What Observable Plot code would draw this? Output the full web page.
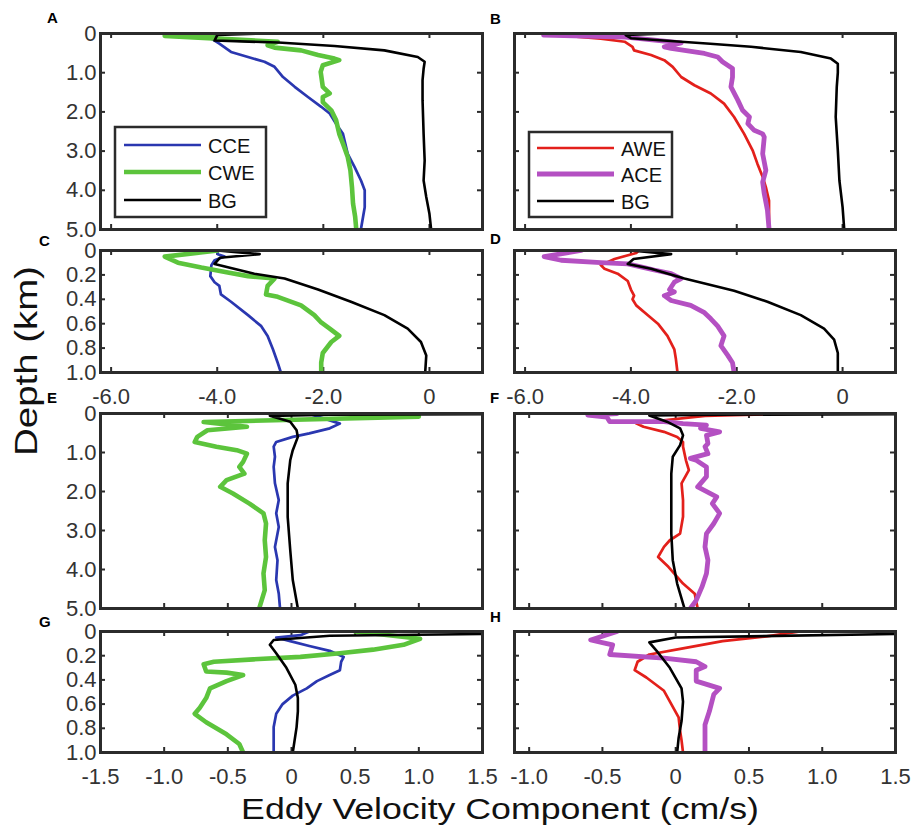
<!DOCTYPE html>
<html><head><meta charset="utf-8">
<script src="https://cdn.jsdelivr.net/npm/d3@7"></script>
<script src="https://cdn.jsdelivr.net/npm/@observablehq/plot@0.6"></script>
<style>
body{margin:0;background:#fff;}
#root{position:relative;width:912px;height:827px;overflow:hidden;font-family:"Liberation Sans",Arial,Helvetica,sans-serif;background:#fff;}
#root svg{position:absolute;}
</style></head><body><div id="root"></div><script>
// ---------- data: [velocity (cm/s), depth (km)] ----------
const A_CCE = [[-4.0,0],[-4.05,0.05],[-4.11,0.13],[-3.96,0.26],[-3.74,0.47],[-3.42,0.60],[-3.11,0.72],[-2.92,0.85],[-2.76,1.11],[-2.54,1.36],[-2.29,1.62],[-2.04,1.87],[-1.88,2.04],[-1.76,2.30],[-1.63,2.56],[-1.60,2.73],[-1.54,3.07],[-1.41,3.41],[-1.29,3.75],[-1.22,4.0],[-1.22,4.43],[-1.29,4.98]];
const A_CWE = [[-3.99,0],[-4.99,0.06],[-2.86,0.21],[-3.05,0.30],[-2.92,0.36],[-2.42,0.43],[-2.10,0.55],[-1.79,0.64],[-1.70,0.68],[-2.01,0.81],[-2.05,0.98],[-2.01,1.36],[-1.88,1.53],[-2.01,1.62],[-2.01,1.75],[-1.85,1.96],[-1.76,2.21],[-1.70,2.56],[-1.63,2.81],[-1.54,3.15],[-1.49,3.49],[-1.46,3.92],[-1.44,4.34],[-1.40,4.68],[-1.38,4.98]];
const A_BG  = [[-3.2,0],[-4.0,0.04],[-4.05,0.18],[-2.85,0.23],[-1.79,0.32],[-0.85,0.43],[-0.22,0.60],[-0.09,0.72],[-0.11,0.9],[-0.13,1.19],[-0.13,1.70],[-0.11,2.56],[-0.09,3.24],[-0.11,3.75],[-0.06,4.17],[0,4.6],[0.03,4.98]];

const B_AWE = [[-4.3,0],[-5.5,0.03],[-4.57,0.13],[-4.12,0.21],[-3.97,0.34],[-3.94,0.43],[-3.62,0.55],[-3.37,0.68],[-3.21,0.85],[-3.05,1.11],[-2.80,1.32],[-2.49,1.53],[-2.24,1.79],[-2.05,2.13],[-1.86,2.56],[-1.70,2.98],[-1.61,3.32],[-1.51,3.66],[-1.45,3.92],[-1.39,4.26],[-1.39,4.60],[-1.39,4.98]];
const B_ACE = [[-4.5,0],[-5.65,0.04],[-4.1,0.09],[-3.05,0.24],[-3.37,0.34],[-3.24,0.38],[-2.61,0.51],[-2.36,0.60],[-2.27,0.72],[-2.08,0.89],[-2.08,1.11],[-2.11,1.36],[-1.98,1.70],[-1.89,1.96],[-1.76,2.13],[-1.79,2.30],[-1.67,2.47],[-1.51,2.56],[-1.48,2.64],[-1.51,3.07],[-1.45,3.49],[-1.51,3.79],[-1.48,4.09],[-1.42,4.51],[-1.39,4.98]];
const B_BG  = [[-3.3,0],[-4.1,0.04],[-4.0,0.12],[-2.5,0.26],[-1.73,0.34],[-0.79,0.47],[-0.22,0.64],[-0.09,0.77],[-0.09,1.0],[-0.11,1.36],[-0.13,2.13],[-0.09,2.98],[-0.06,3.75],[0,4.43],[0.03,4.98]];

const C_CCE = [[-4.0,0],[-3.99,0.03],[-3.86,0.05],[-4.05,0.08],[-4.11,0.12],[-4.13,0.21],[-4.05,0.26],[-3.96,0.29],[-3.93,0.36],[-3.74,0.42],[-3.42,0.53],[-3.17,0.62],[-3.05,0.70],[-2.95,0.81],[-2.86,0.92],[-2.80,1.0]];
const C_CWE = [[-3.99,0],[-4.99,0.05],[-4.74,0.10],[-4.30,0.14],[-3.80,0.18],[-3.42,0.21],[-2.92,0.23],[-3.05,0.29],[-3.08,0.36],[-2.86,0.38],[-2.42,0.45],[-2.17,0.53],[-2.04,0.59],[-1.88,0.64],[-1.70,0.70],[-1.85,0.75],[-2.01,0.84],[-2.04,0.92],[-2.04,1.0]];
const C_BG  = [[-4.0,0],[-3.2,0.03],[-3.95,0.06],[-4.05,0.11],[-3.30,0.19],[-2.73,0.23],[-2.10,0.32],[-1.48,0.42],[-0.85,0.53],[-0.41,0.64],[-0.16,0.75],[-0.06,0.86],[-0.08,1.0]];

const D_AWE = [[-3.85,0],[-3.90,0.02],[-4.31,0.07],[-4.57,0.12],[-4.50,0.15],[-4.25,0.19],[-4.06,0.25],[-4.0,0.32],[-3.94,0.37],[-3.97,0.40],[-3.90,0.45],[-3.68,0.53],[-3.49,0.60],[-3.31,0.70],[-3.18,0.81],[-3.15,0.89],[-3.12,1.0]];
const D_ACE = [[-4.94,0],[-5.64,0.05],[-5.32,0.08],[-4.57,0.10],[-4.06,0.11],[-3.75,0.14],[-3.56,0.16],[-3.24,0.19],[-3.05,0.23],[-3.18,0.26],[-3.27,0.32],[-3.18,0.34],[-3.37,0.37],[-3.24,0.41],[-2.87,0.45],[-2.61,0.51],[-2.49,0.56],[-2.36,0.62],[-2.24,0.70],[-2.30,0.78],[-2.17,0.86],[-2.08,0.92],[-2.05,1.0]];
const D_BG  = [[-4.0,0],[-3.24,0.03],[-3.95,0.07],[-4.06,0.11],[-3.62,0.15],[-2.99,0.23],[-2.05,0.33],[-1.42,0.42],[-0.79,0.53],[-0.35,0.64],[-0.16,0.73],[-0.09,0.84],[-0.09,1.0]];

const E_CCE = [[0.0,0],[0.15,0.02],[0.38,0.26],[0.30,0.38],[0.14,0.51],[0.01,0.60],[-0.12,0.73],[-0.14,0.85],[-0.13,1.11],[-0.14,1.37],[-0.13,1.79],[-0.10,2.22],[-0.12,2.56],[-0.10,2.91],[-0.13,3.42],[-0.11,3.76],[-0.12,4.27],[-0.10,4.62],[-0.09,5.0]];
const E_CWE = [[0.46,0],[1.0,0.08],[-0.69,0.22],[-0.35,0.34],[-0.66,0.43],[-0.74,0.60],[-0.76,0.73],[-0.59,0.85],[-0.43,0.94],[-0.35,1.03],[-0.38,1.24],[-0.41,1.37],[-0.37,1.54],[-0.51,1.71],[-0.56,1.88],[-0.46,2.05],[-0.33,2.31],[-0.22,2.56],[-0.20,2.82],[-0.21,3.25],[-0.20,3.68],[-0.22,4.10],[-0.21,4.53],[-0.25,4.96]];
const E_BG  = [[1.8,0],[1.5,0.02],[0.3,0.03],[-0.17,0.06],[-0.01,0.21],[0.04,0.43],[0.05,0.60],[0.01,0.94],[-0.01,1.2],[-0.03,1.79],[-0.03,2.65],[-0.01,3.5],[0.01,4.27],[0.05,5.0]];

const F_AWE = [[0.85,0],[0.2,0.06],[-0.27,0.25],[-0.22,0.34],[-0.08,0.47],[0.01,0.60],[0.05,0.73],[0.05,0.85],[0.07,1.2],[0.09,1.45],[0.04,1.79],[0.05,2.22],[0.05,2.65],[0.03,3.08],[-0.04,3.25],[-0.08,3.42],[-0.12,3.68],[-0.05,3.93],[0.05,4.36],[0.13,4.62],[0.15,5.0]];
const F_ACE = [[-0.40,0],[-0.60,0.04],[-0.47,0.09],[-0.45,0.21],[-0.08,0.21],[0.05,0.26],[0.21,0.30],[0.17,0.38],[0.30,0.47],[0.21,0.56],[0.22,0.77],[0.20,0.85],[0.22,1.03],[0.10,1.15],[0.14,1.20],[0.21,1.37],[0.21,1.62],[0.15,1.88],[0.28,2.14],[0.25,2.31],[0.30,2.56],[0.26,2.82],[0.21,3.08],[0.20,3.42],[0.22,3.76],[0.21,4.10],[0.18,4.44],[0.14,4.79],[0.10,5.0]];
const F_BG  = [[1.8,0],[1.5,0.02],[0.3,0.03],[-0.18,0.05],[-0.06,0.21],[0.03,0.38],[0.05,0.56],[0.03,0.81],[-0.02,1.11],[-0.03,1.54],[-0.03,2.22],[-0.03,3.08],[-0.02,3.76],[0.01,4.36],[0.06,5.0]];

const G_CCE = [[0.14,0],[0.07,0.03],[-0.12,0.05],[-0.01,0.08],[0.14,0.12],[0.30,0.16],[0.41,0.21],[0.39,0.25],[0.38,0.32],[0.30,0.36],[0.20,0.41],[0.12,0.47],[0.01,0.53],[-0.07,0.60],[-0.12,0.68],[-0.14,0.79],[-0.14,0.90],[-0.14,1.0]];
const G_CWE = [[0.50,0],[1.01,0.06],[0.88,0.11],[0.64,0.15],[0.38,0.18],[0.07,0.21],[-0.30,0.23],[-0.61,0.25],[-0.69,0.27],[-0.67,0.33],[-0.51,0.34],[-0.38,0.36],[-0.51,0.41],[-0.64,0.47],[-0.67,0.55],[-0.72,0.63],[-0.76,0.68],[-0.67,0.75],[-0.51,0.85],[-0.41,0.93],[-0.38,1.0]];
const G_BG  = [[1.8,0],[1.5,0.02],[0.3,0.035],[-0.14,0.07],[-0.17,0.11],[-0.12,0.18],[-0.04,0.30],[0.03,0.44],[0.05,0.55],[0.05,0.66],[0.04,0.79],[0.01,1.0]];

const H_AWE = [[0.85,0],[0.62,0.04],[0.32,0.08],[0.05,0.14],[-0.18,0.19],[-0.26,0.25],[-0.28,0.32],[-0.20,0.38],[-0.08,0.49],[-0.03,0.60],[0.02,0.71],[0.03,0.82],[0.04,0.90],[0.05,1.0]];
const H_ACE = [[-0.40,0],[-0.58,0.07],[-0.47,0.10],[-0.43,0.11],[-0.45,0.19],[-0.08,0.22],[0.14,0.25],[0.20,0.29],[0.14,0.32],[0.14,0.41],[0.30,0.47],[0.26,0.52],[0.23,0.66],[0.20,0.77],[0.20,0.88],[0.20,1.0]];
const H_BG  = [[1.8,0],[1.5,0.02],[0.0,0.05],[-0.18,0.09],[-0.13,0.16],[-0.04,0.30],[0.04,0.47],[0.05,0.58],[0.04,0.74],[0.02,0.88],[0.01,1.0]];

// ticks
const depthTicksDeep = [0, 1, 2, 3, 4, 5];
const depthTicksShallow = [0, 0.2, 0.4, 0.6, 0.8, 1];
const velTicksWide = [-6, -4, -2, 0];
const velTicksLeft = [-1.5, -1, -0.5, 0, 0.5, 1, 1.5];
const velTicksRight = [-1, -0.5, 0, 0.5, 1, 1.5];
const legendLeft = ["CCE", "CWE", "BG"];
const legendRight = ["AWE", "ACE", "BG"];

// ---------- styling ----------
const FONT = "'Liberation Sans', Arial, Helvetica, sans-serif";
const FRAME = "#2b2b2b";
const COLORS = {CCE: "#2a37b0", CWE: "#5cc43c", BG: "#000000", AWE: "#e3201b", ACE: "#b450c2"};
const WIDTHS = {CCE: 2.7, CWE: 4.6, BG: 2.6, AWE: 2.7, ACE: 4.8};

const cols = [{left: 0, ml: 100, fw: 382, mr: 12}, {left: 500, ml: 14, fw: 381, mr: 16}];
const rows = [
  {top: 0, mt: 33, fh: 196, mb: 6},
  {top: 240, mt: 10, fh: 122, mb: 40},
  {top: 400, mt: 13, fh: 195, mb: 6},
  {top: 620, mt: 11, fh: 121, mb: 40}
];
const fmt = d => d === 0 ? "0" : d.toFixed(1);

const panels = [
  {r: 0, c: 0, xdom: [-6.2, 1.0], xt: velTicksWide, ydom: [0, 5], yt: depthTicksDeep, sx: false, sy: true, s: [["CCE", A_CCE], ["CWE", A_CWE], ["BG", A_BG]]},
  {r: 0, c: 1, xdom: [-6.2, 1.0], xt: velTicksWide, ydom: [0, 5], yt: depthTicksDeep, sx: false, sy: false, s: [["AWE", B_AWE], ["ACE", B_ACE], ["BG", B_BG]]},
  {r: 1, c: 0, xdom: [-6.2, 1.0], xt: velTicksWide, ydom: [0, 1], yt: depthTicksShallow, sx: true, sy: true, s: [["CCE", C_CCE], ["CWE", C_CWE], ["BG", C_BG]]},
  {r: 1, c: 1, xdom: [-6.2, 1.0], xt: velTicksWide, ydom: [0, 1], yt: depthTicksShallow, sx: true, sy: false, s: [["AWE", D_AWE], ["ACE", D_ACE], ["BG", D_BG]]},
  {r: 2, c: 0, xdom: [-1.5, 1.5], xt: velTicksLeft, ydom: [0, 5], yt: depthTicksDeep, sx: false, sy: true, s: [["CCE", E_CCE], ["CWE", E_CWE], ["BG", E_BG]]},
  {r: 2, c: 1, xdom: [-1.1, 1.5], xt: velTicksRight, ydom: [0, 5], yt: depthTicksDeep, sx: false, sy: false, s: [["AWE", F_AWE], ["ACE", F_ACE], ["BG", F_BG]]},
  {r: 3, c: 0, xdom: [-1.5, 1.5], xt: velTicksLeft, ydom: [0, 1], yt: depthTicksShallow, sx: true, sy: true, s: [["CCE", G_CCE], ["CWE", G_CWE], ["BG", G_BG]]},
  {r: 3, c: 1, xdom: [-1.1, 1.5], xt: velTicksRight, ydom: [0, 1], yt: depthTicksShallow, sx: true, sy: false, s: [["AWE", H_AWE], ["ACE", H_ACE], ["BG", H_BG]]}
];

const root = document.getElementById("root");

for (const p of panels) {
  const R = rows[p.r], C = cols[p.c];
  const width = C.ml + C.fw + C.mr;
  const height = R.mt + R.fh + R.mb;
  const tk = {stroke: FRAME, strokeWidth: 2};
  const marks = [
    Plot.tickX(p.xt, {x: d => d, insetTop: R.fh - 5, ...tk}),
    Plot.tickX(p.xt, {x: d => d, insetBottom: R.fh - 5, ...tk}),
    Plot.tickY(p.yt, {y: d => d, insetRight: C.fw - 5, ...tk}),
    Plot.tickY(p.yt, {y: d => d, insetLeft: C.fw - 5, ...tk})
  ];
  for (const [key, data] of p.s) {
    marks.push(Plot.line(data, {x: d => d[0], y: d => d[1], stroke: COLORS[key], strokeWidth: WIDTHS[key],
      strokeLinejoin: "round", strokeLinecap: "round", clip: true}));
  }
  marks.push(Plot.frame({stroke: FRAME, strokeWidth: 3}));
  if (p.sx) marks.push(Plot.axisX({ticks: p.xt, tickFormat: fmt, tickSize: 0, tickPadding: 16, anchor: "bottom", label: null, fill: "#333", fontSize: 22}));
  if (p.sy) marks.push(Plot.axisY({ticks: p.yt, tickFormat: fmt, tickSize: 0, tickPadding: 4, anchor: "left", label: null, fill: "#333", fontSize: 22}));

  const svg = Plot.plot({
    width, height,
    marginLeft: C.ml, marginRight: C.mr, marginTop: R.mt, marginBottom: R.mb,
    x: {domain: p.xdom, axis: null},
    y: {domain: p.ydom, reverse: true, axis: null},
    style: `background: transparent; overflow: visible; font-family: ${FONT}; font-size: 22px; max-width: none;`,
    marks
  });
  svg.style.position = "absolute";
  svg.style.left = C.left + "px";
  svg.style.top = R.top + "px";
  root.appendChild(svg);
}

// ---------- overlay: panel letters, axis titles, legends ----------
const ov = d3.select(root).append("svg")
  .attr("width", 912).attr("height", 827)
  .style("left", "0px").style("top", "0px")
  .style("font-family", FONT).style("pointer-events", "none");

const letters = [["A", 47, 23], ["B", 490, 24], ["C", 39, 246], ["D", 490, 244], ["E", 47, 403], ["F", 490, 403], ["G", 39, 627], ["H", 490, 622]];
for (const [t, x, y] of letters) {
  ov.append("text").attr("x", x).attr("y", y).attr("font-size", 15).attr("font-weight", "bold").attr("fill", "#000").text(t);
}

ov.append("text")
  .attr("transform", "translate(37,361) rotate(-90) scale(1.2,1)")
  .attr("text-anchor", "middle").attr("font-size", 32).attr("fill", "#111")
  .text("Depth (km)");

ov.append("text")
  .attr("transform", "translate(500,819) scale(1.19,1)")
  .attr("text-anchor", "middle").attr("font-size", 30).attr("fill", "#111")
  .text("Eddy Velocity Component (cm/s)");

function legend(x0, y0, w, h, keys, lineX0, lineX1, textX, ys) {
  ov.append("rect").attr("x", x0).attr("y", y0).attr("width", w).attr("height", h)
    .attr("fill", "#fff").attr("stroke", FRAME).attr("stroke-width", 2.5);
  keys.forEach((k, i) => {
    ov.append("line").attr("x1", lineX0).attr("x2", lineX1).attr("y1", ys[i]).attr("y2", ys[i])
      .attr("stroke", COLORS[k]).attr("stroke-width", WIDTHS[k]);
    ov.append("text").attr("x", textX).attr("y", ys[i] + 8).attr("font-size", 20).attr("fill", "#111").text(k);
  });
}
legend(115, 127, 151, 90, legendLeft, 124, 201, 208, [145, 172, 200]);
legend(529, 132, 143, 85, legendRight, 537, 614, 621, [148, 174, 201]);
</script></body></html>
